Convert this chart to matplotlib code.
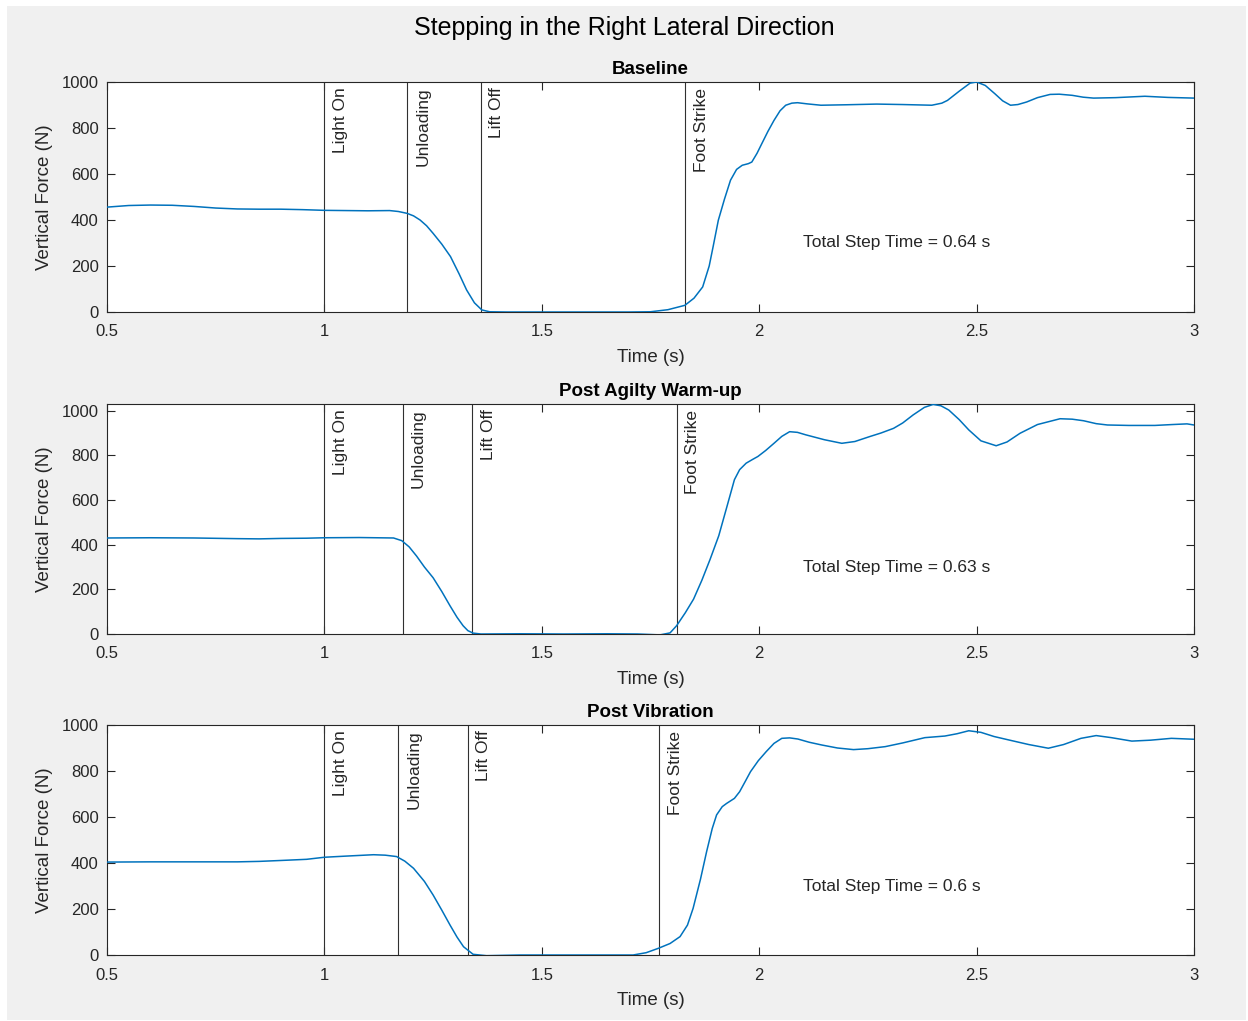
import matplotlib
matplotlib.use('Agg')
from matplotlib import pyplot as plt
from matplotlib.patches import Rectangle

plt.rcParams['font.family'] = ['Liberation Sans', 'DejaVu Sans']

# force traces (time in s, vertical force in N)
base_t = [0.5, 0.55, 0.6, 0.65, 0.7, 0.75, 0.8, 0.85, 0.9, 0.95, 1.0, 1.05, 1.1, 1.15, 1.17, 1.19,
          1.205, 1.22, 1.235, 1.25, 1.27, 1.29, 1.31, 1.327, 1.345, 1.362, 1.38, 1.42, 1.5, 1.6, 1.7,
          1.75, 1.79, 1.829, 1.85, 1.87, 1.885, 1.894, 1.906, 1.92, 1.934, 1.948, 1.961, 1.975,
          1.983, 1.995, 2.006, 2.02, 2.034, 2.048, 2.061, 2.075, 2.088, 2.11, 2.142, 2.2, 2.27, 2.33,
          2.397, 2.42, 2.433, 2.46, 2.485, 2.5, 2.52, 2.542, 2.56, 2.578, 2.595, 2.615, 2.64, 2.669,
          2.69, 2.72, 2.745, 2.769, 2.82, 2.887, 2.94, 3.0]
base_f = [456, 463, 465, 464, 459, 452, 448, 447, 447, 445, 442, 441, 440, 441, 437, 429,
          418, 400, 375, 342, 295, 241, 165, 96, 40, 9, 1, 0, 0, 0, 0,
          1, 10, 29, 60, 109, 200, 284, 399, 490, 573, 620, 638, 645,
          652, 690, 732, 785, 833, 875, 899, 908, 910, 905, 899, 901, 904, 902,
          899, 908, 920, 960, 995, 1000, 985, 949, 918, 899, 902, 913, 932, 946,
          947, 942, 934, 930, 932, 938, 933, 930]

agil_t = [0.5, 0.6, 0.7, 0.8, 0.85, 0.9, 0.959, 1.0, 1.08, 1.159, 1.178, 1.195, 1.212, 1.23, 1.25,
          1.27, 1.289, 1.305, 1.319, 1.33, 1.342, 1.36, 1.45, 1.55, 1.65, 1.72, 1.772, 1.795, 1.81,
          1.83, 1.849, 1.868, 1.887, 1.907, 1.926, 1.943, 1.955, 1.97, 1.985, 1.997, 2.015, 2.034,
          2.052, 2.07, 2.088, 2.107, 2.15, 2.19, 2.22, 2.254, 2.28, 2.309, 2.33, 2.354, 2.38, 2.4,
          2.418, 2.436, 2.46, 2.482, 2.51, 2.545, 2.57, 2.6, 2.64, 2.692, 2.72, 2.746, 2.775, 2.801,
          2.85, 2.91, 2.95, 2.984, 3.0]
agil_f = [430, 431, 430, 427, 426, 428, 429, 431, 432, 430, 418, 390, 349, 300, 252,
          190, 126, 75, 37, 15, 4, 0, 1, 0, 1, 0, -4, 5, 37,
          95, 156, 240, 334, 440, 572, 691, 736, 765, 782, 795, 822, 854,
          885, 906, 903, 892, 870, 854, 862, 884, 900, 921, 945, 981, 1015, 1028,
          1022, 1003, 960, 914, 865, 843, 860, 899, 938, 964, 962, 955, 942, 936,
          934, 934, 938, 941, 936]

vib_t = [0.5, 0.6, 0.7, 0.8, 0.85, 0.9, 0.959, 1.0, 1.05, 1.113, 1.14, 1.166, 1.185, 1.205, 1.23,
         1.25, 1.27, 1.289, 1.305, 1.32, 1.342, 1.373, 1.45, 1.55, 1.65, 1.71, 1.74, 1.768, 1.795,
         1.818, 1.835, 1.848, 1.865, 1.879, 1.892, 1.902, 1.915, 1.925, 1.943, 1.955, 1.968, 1.98,
         1.998, 2.016, 2.034, 2.052, 2.07, 2.089, 2.115, 2.144, 2.18, 2.217, 2.25, 2.29, 2.33,
         2.381, 2.427, 2.455, 2.482, 2.51, 2.54, 2.574, 2.62, 2.665, 2.7, 2.74, 2.775, 2.81, 2.857,
         2.9, 2.948, 3.0]
vib_f = [404, 405, 405, 405, 407, 411, 416, 425, 430, 436, 434, 428, 408, 377, 320,
         261, 195, 130, 78, 36, 3, -3, 0, 0, 0, 0, 10, 29, 50,
         80, 130, 203, 330, 449, 550, 609, 645, 659, 681, 710, 755, 797,
         845, 884, 920, 942, 944, 939, 925, 913, 900, 893, 897, 906, 922,
         945, 952, 962, 975, 968, 950, 935, 915, 899, 915, 942, 954, 945, 930,
         934, 942, 938]

titles = ['Baseline', 'Post Agilty Warm-up', 'Post Vibration']
event_names = ['Light On', 'Unloading', 'Lift Off', 'Foot Strike']
# event times: light on, unloading, lift off, foot strike
events = [[1.0, 1.19, 1.36, 1.83],
          [1.0, 1.18, 1.34, 1.81],
          [1.0, 1.17, 1.33, 1.77]]
ytops = [1000, 1030, 1000]
traces = [(base_t, base_f), (agil_t, agil_f), (vib_t, vib_f)]

W, H = 1248, 1021
fig = plt.figure(figsize=(W / 100, H / 100), dpi=100, facecolor='white')
fig.patches.append(Rectangle((7 / W, 1 / H), 1239 / W, 1014 / H, transform=fig.transFigure,
                             facecolor='#f0f0f0', edgecolor='none', zorder=-1))

ink = '#262626'
tops_px = [82, 404, 725]
for i in range(3):
    top = tops_px[i]
    ax = fig.add_axes([107 / W, 1 - (top + 230) / H, 1087 / W, 230 / H])
    t, f = traces[i]
    ax.plot(t, f, color='#0072BD', lw=1.1, zorder=3)
    for name, ev in zip(event_names, events[i]):
        ax.axvline(ev, color='#303030', lw=0.8, zorder=2)
        ax.annotate(name, xy=(ev, 1), xycoords=('data', 'axes fraction'),
                    xytext=(6, -4), textcoords='offset points', rotation=90,
                    ha='left', va='top', fontsize=12.5, color=ink)
    step = round(events[i][3] - events[i][1], 2)
    ax.text(2.1, 300, f'Total Step Time = {step:g} s', fontsize=12.5, color=ink,
            ha='left', va='center')
    ax.set_xlim(0.5, 3)
    ax.set_ylim(0, ytops[i])
    ax.set_xticks([0.5, 1, 1.5, 2, 2.5, 3])
    ax.set_xticklabels(['0.5', '1', '1.5', '2', '2.5', '3'])
    ax.set_yticks([0, 200, 400, 600, 800, 1000])
    ax.tick_params(direction='in', length=6, width=0.8, top=True, right=True,
                   labelsize=12, colors=ink)
    ax.tick_params(axis='x', pad=9)
    ax.tick_params(axis='y', pad=6)
    for s in ax.spines.values():
        s.set_color(ink)
        s.set_linewidth(0.8)
    ax.set_title(titles[i], fontsize=13.5, fontweight='bold', color='black', pad=6)
    ax.set_xlabel('Time (s)', fontsize=13.5, color=ink, labelpad=7)
    ax.set_ylabel('Vertical Force (N)', fontsize=13.5, color=ink, labelpad=6)

fig.text(0.5, 1 - 28 / H, 'Stepping in the Right Lateral Direction', ha='center', va='center',
         fontsize=18, color='black')

plt.savefig('out.png', dpi=100, facecolor=fig.get_facecolor())
plt.close()
